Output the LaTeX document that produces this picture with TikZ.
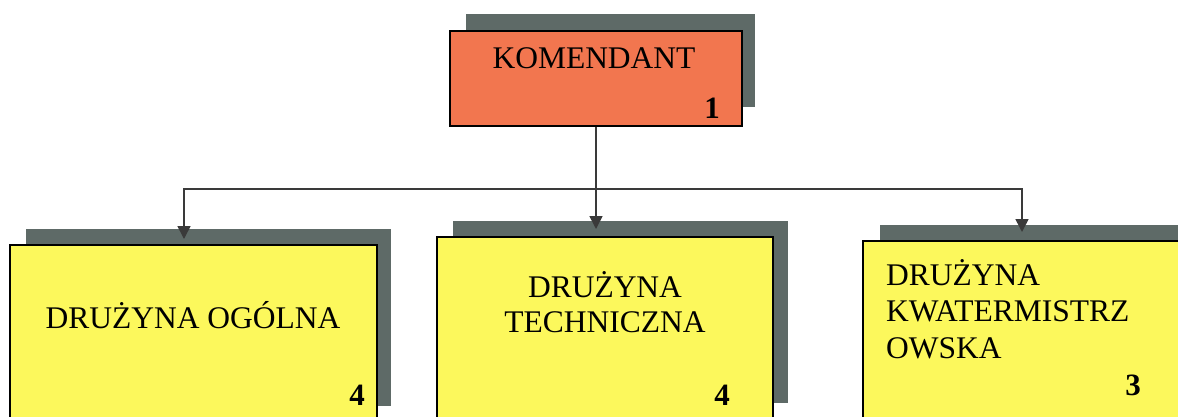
\documentclass[tikz,border=0pt]{standalone}
\usepackage{fontspec}
\setmainfont{Liberation Serif}
\usetikzlibrary{arrows.meta}
\definecolor{orangebox}{HTML}{F2764F}
\definecolor{yellowbox}{HTML}{FCF85C}
\definecolor{shadowgray}{HTML}{5E6A67}
\definecolor{linegray}{HTML}{3A3A3A}
\tikzset{
  box/.style={draw=black, line width=2pt, rectangle, inner sep=0pt},
  kbox/.style={box, fill=orangebox},
  ybox/.style={box, fill=yellowbox},
  shadowfill/.style={fill=shadowgray},
  lbl/.style={inner sep=0pt, anchor=base, font=\fontsize{31.5}{36}\selectfont},
  num/.style={inner sep=0pt, anchor=base, font=\fontsize{31}{36}\selectfont\bfseries},
  conn/.style={draw=linegray, line width=1.6pt},
  arr/.style={conn, -{Triangle[width=13pt,length=13pt]}},
}
\begin{document}
\begin{tikzpicture}[x=1pt,y=-1pt]
\useasboundingbox (0,0) rectangle (1178,416);
\clip (0,0) rectangle (1178,416);
\fill[white] (0,0) rectangle (1178,416);
% shadows
\fill[shadowfill] (466,14) rectangle (755,107);
\fill[shadowfill] (26,229) rectangle (391,406);
\fill[shadowfill] (453,221) rectangle (788,403);
\fill[shadowfill] (880,225) rectangle (1200,400);
% boxes
\node[kbox, minimum width=292pt, minimum height=95pt] (kom) at (596,78.5) {};
\node[ybox, minimum width=367pt, minimum height=185pt] (og) at (193.5,337.5) {};
\node[ybox, minimum width=336pt, minimum height=193pt] (tech) at (605,333.5) {};
\node[ybox, minimum width=332pt, minimum height=189pt] (kw) at (1029,335.5) {};
% labels
\node[lbl] (komt) at (594,68) {KOMENDANT};
\node[num] (komn) at (712,118) {1};
\node[lbl] (ogt) at (193,328) {DRUŻYNA OGÓLNA};
\node[num] (ogn) at (357,405) {4};
\node[lbl] (techt1) at (605,297) {DRUŻYNA};
\node[lbl] (techt2) at (605,332) {TECHNICZNA};
\node[num] (techn) at (722,405) {4};
\node[lbl, anchor=base west] (kwt1) at (886,285) {DRUŻYNA};
\node[lbl, anchor=base west] (kwt2) at (886,321) {KWATERMISTRZ};
\node[lbl, anchor=base west] (kwt3) at (886,358) {OWSKA};
\node[num] (kwn) at (1133,395) {3};
% connectors
\coordinate (bus) at (596,189);
\coordinate (aL) at (184,239);
\coordinate (aM) at (596,229);
\coordinate (aR) at (1022,232);
\draw[arr] (kom.south) -- (aM);
\draw[arr] (bus) -| (aL);
\draw[arr] (bus) -| (aR);
\end{tikzpicture}
\end{document}
